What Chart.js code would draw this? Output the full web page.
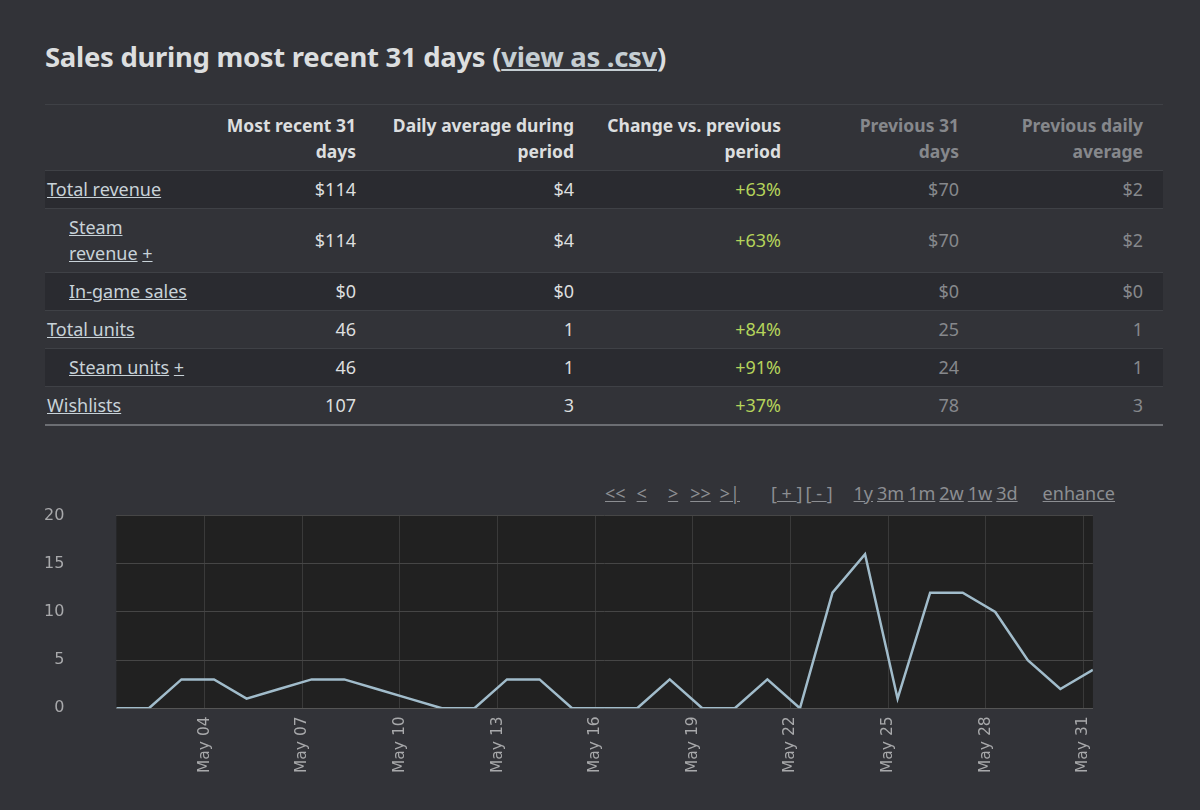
<!DOCTYPE html>
<html>
<head>
<meta charset="utf-8">
<script src="https://cdn.jsdelivr.net/npm/chart.js@4"></script>
<style>
  body { margin: 0; background: #323338; width: 1200px; height: 810px; overflow: hidden; font-family: "Noto Sans", sans-serif; color: #dcdedf; position: relative; }
  h2 { position: absolute; left: 45px; top: 37px; margin: 0; font-size: 27.5px; font-weight: bold; line-height: 40px; color: #dcdedf; letter-spacing: -0.3px; }
  h2 a { color: #c5ced3; text-decoration: underline; }
  table { position: absolute; left: 45px; top: 104px; width: 1118px; border-collapse: collapse; table-layout: fixed; font-size: 18px; line-height: 26px; }
  th, td { padding: 5px 8px 6px 8px; text-align: right; border-top: 1px solid #3f4146; }
  th { font-size: 17.5px; font-weight: bold; padding-top: 7px; padding-bottom: 6px; vertical-align: bottom; }
  td:first-child, th:first-child { text-align: left; padding-left: 2px; }
  td:last-child, th:last-child { padding-right: 20px; }
  tbody tr:nth-child(odd) td { background: #2a2b30; }
  tbody tr:last-child td { border-bottom: 2px solid #6c6e73; }
  .prev { color: #86888c; }
  .up { color: #b5d35b; }
  td a { color: #c8d2d8; text-decoration: underline; }
  .ind { padding-left: 24px !important; }
  #nav { position: absolute; left: 605px; top: 481px; font-size: 18px; color: #8c8e92; white-space: nowrap; }
  #nav span { display: inline-block; }
  #nav a { color: #8c8e92; text-decoration: underline; }
  #wrap { position: absolute; left: 30px; top: 506px; width: 1080px; height: 275px; }
</style>
</head>
<body>
<h2>Sales during most recent 31 days (<a>view as .csv</a>)</h2>
<table>
  <colgroup><col style="width:155px"><col style="width:164px"><col style="width:218px"><col style="width:207px"><col style="width:178px"><col style="width:196px"></colgroup>
  <thead><tr>
    <th></th><th>Most recent 31<br>days</th><th>Daily average during<br>period</th><th>Change vs. previous<br>period</th><th class="prev">Previous 31<br>days</th><th class="prev">Previous daily<br>average</th>
  </tr></thead>
  <tbody id="rows"></tbody>
</table>
<div id="nav">
  <span><a>&lt;&lt;</a></span><span style="margin-left:11px"><a>&lt;</a></span><span style="margin-left:21px"><a>&gt;</a></span><span style="margin-left:12px"><a>&gt;&gt;</a></span><span style="margin-left:9px"><a>&gt;|</a></span><span style="margin-left:31px">[<a>&nbsp;+&nbsp;</a>]</span><span style="margin-left:3px">[<a>&nbsp;-&nbsp;</a>]</span><span style="margin-left:21px"><a>1y</a></span><span style="margin-left:4px"><a>3m</a></span><span style="margin-left:4px"><a>1m</a></span><span style="margin-left:4px"><a>2w</a></span><span style="margin-left:4px"><a>1w</a></span><span style="margin-left:4px"><a>3d</a></span><span style="margin-left:25px"><a>enhance</a></span>
</div>
<div id="wrap"><canvas id="myChart"></canvas></div>
<script>
// TABLA DE RESUMEN
const rowLabels = ['Total revenue', 'Steam revenue', 'In-game sales', 'Total units', 'Steam units', 'Wishlists'];
const rowIndent = [false, true, true, false, true, false];
const rowPlus = [false, true, false, false, true, false];
const recentTotals = ['$114', '$114', '$0', '46', '46', '107'];
const dailyAverages = ['$4', '$4', '$0', '1', '1', '3'];
const changes = ['+63%', '+63%', '', '+84%', '+91%', '+37%'];
const previousTotals = ['$70', '$70', '$0', '25', '24', '78'];
const previousAverages = ['$2', '$2', '$0', '1', '1', '3'];

// DATOS DE LA GRAFICA (dia de mayo y valor)
const dayOfMonth = [1, 2, 3, 4, 5, 6, 7, 8, 9, 10, 11, 12, 13, 14, 15, 16, 17, 18, 19, 20, 21, 22, 23, 24, 25, 26, 27, 28, 29, 30, 31];
const dailyValues = [0, 0, 3, 3, 1, 2, 3, 3, 2, 1, 0, 0, 3, 3, 0, 0, 0, 3, 0, 0, 3, 0, 12, 16, 1, 12, 12, 10, 5, 2, 4];
const tickDays = [4, 7, 10, 13, 16, 19, 22, 25, 28, 31];
const tickLabels = ['May 04', 'May 07', 'May 10', 'May 13', 'May 16', 'May 19', 'May 22', 'May 25', 'May 28', 'May 31'];
const sampleHour = 7; // los puntos caen a media manana de cada dia

// LLENAR LA TABLA
var tbody = document.getElementById('rows');
rowLabels.forEach((label, i) => {
    var tr = document.createElement('tr');
    var name = label;
    if (label === 'Steam revenue') name = 'Steam<br>revenue';
    var first = '<a>' + name + '</a>' + (rowPlus[i] ? ' <a>+</a>' : '');
    tr.innerHTML =
        '<td class="' + (rowIndent[i] ? 'ind' : '') + '">' + first + '</td>' +
        '<td>' + recentTotals[i] + '</td>' +
        '<td>' + dailyAverages[i] + '</td>' +
        '<td class="up">' + changes[i] + '</td>' +
        '<td class="prev">' + previousTotals[i] + '</td>' +
        '<td class="prev">' + previousAverages[i] + '</td>';
    tbody.appendChild(tr);
});

// FONDO DEL AREA DE LA GRAFICA
const plotBackground = {
    id: 'plotBackground',
    beforeDraw(chart) {
        const a = chart.chartArea;
        chart.ctx.save();
        chart.ctx.fillStyle = '#212121';
        chart.ctx.fillRect(a.left, a.top, a.right - a.left, a.bottom - a.top);
        chart.ctx.restore();
    }
};

const points = dayOfMonth.map((d, i) => ({ x: d + sampleHour / 24, y: dailyValues[i] }));

var ctx = document.getElementById('myChart').getContext('2d');
window.myChart = new Chart(ctx, {
    type: 'line',
    data: {
        datasets: [{
            data: points,
            borderColor: '#a1bccb',
            borderWidth: 2.5,
            pointRadius: 0,
            tension: 0,
            fill: false
        }]
    },
    options: {
        animation: false,
        responsive: true,
        maintainAspectRatio: false,
        layout: { padding: { left: 14, right: 0, top: 4 } },
        plugins: { legend: { display: false }, tooltip: { enabled: false } },
        scales: {
            x: {
                type: 'linear',
                min: points[0].x,
                max: points[points.length - 1].x,
                afterBuildTicks: scale => { scale.ticks = tickDays.map(v => ({ value: v })); },
                ticks: {
                    color: '#a8a9ab',
                    font: { family: 'DejaVu Sans', size: 15.5 },
                    minRotation: 90,
                    maxRotation: 90,
                    autoSkip: false,
                    padding: 8,
                    callback: v => tickLabels[tickDays.indexOf(v)]
                },
                grid: { color: '#3a3a3a', drawTicks: false },
                border: { color: '#555555' }
            },
            y: {
                min: 0,
                max: 20,
                ticks: {
                    stepSize: 5,
                    color: '#a8a9ab',
                    font: { family: 'DejaVu Sans', size: 16 },
                    padding: 52
                },
                // el padding de las etiquetas se cuenta doble, lo quitamos
                afterFit: scale => {
                    const p = scale.options.ticks.padding;
                    scale.width -= p;
                    scale.paddingTop -= p;
                    scale.paddingBottom -= p;
                },
                grid: { color: '#464646', drawTicks: false },
                border: { display: false }
            }
        }
    },
    plugins: [plotBackground]
});
</script>
</body>
</html>
